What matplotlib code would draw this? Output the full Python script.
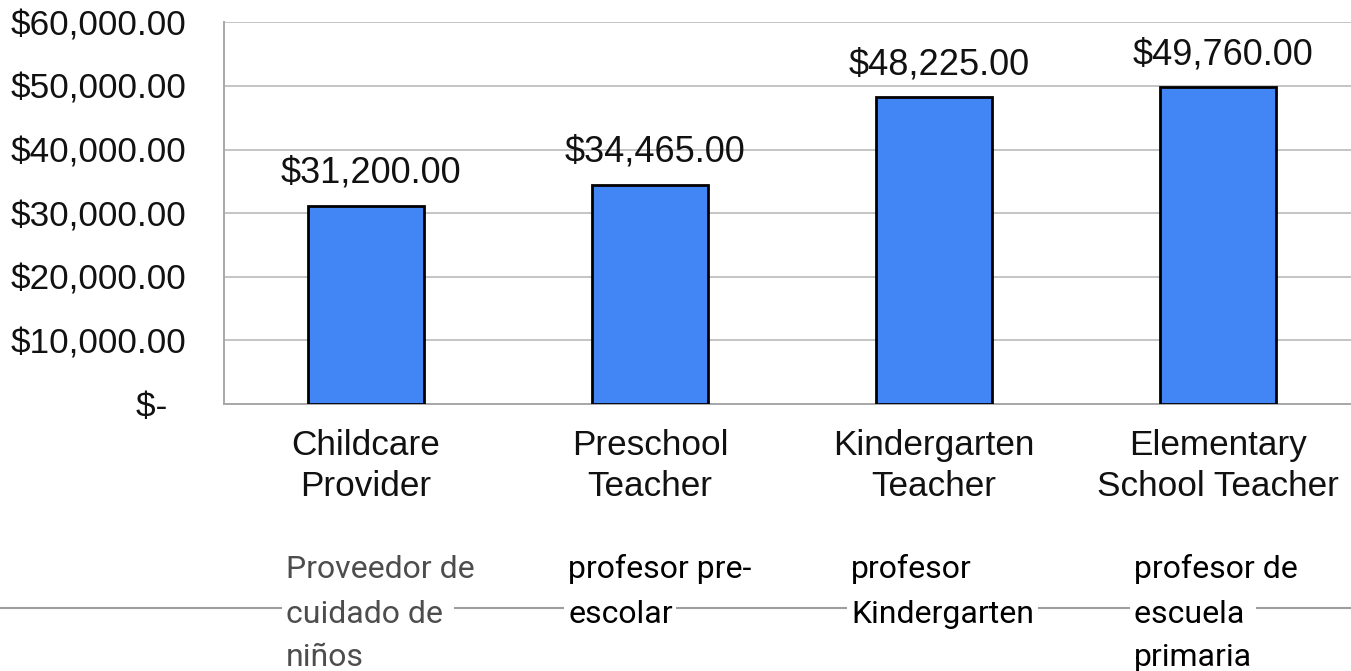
import matplotlib
matplotlib.use("Agg")
import matplotlib.pyplot as plt
from matplotlib.lines import Line2D
from matplotlib.ticker import FuncFormatter

# data
jobs = ["Childcare\nProvider", "Preschool\nTeacher", "Kindergarten\nTeacher", "Elementary\nSchool Teacher"]
salaries = [31200, 34465, 48225, 49760]
yticks = [0, 10000, 20000, 30000, 40000, 50000, 60000]
spanish = [["Proveedor de", "cuidado de ", "niños"],
           ["profesor pre-", "escolar"],
           ["profesor", "Kindergarten"],
           ["profesor de", "escuela ", "primaria"]]
spanish_colors = ["#4d4d4d", "black", "black", "black"]

W, H = 1351, 671
plt.rcParams['font.family'] = ['Liberation Sans', 'DejaVu Sans']

fig = plt.figure(figsize=(W / 100, H / 100), dpi=100)
ax = fig.add_axes([224 / W, (H - 404) / H, (1360 - 224) / W, (404 - 22.3) / H])

x = range(len(jobs))
ax.bar(x, salaries, width=0.405, color="#4285f4", edgecolor="black", linewidth=2, zorder=3)
for i, v in zip(x, salaries):
    ax.annotate("${:,.2f}".format(v), (i, v), xytext=(3.5, 16.5), textcoords="offset points",
                ha="center", va="baseline", fontsize=26, color="#111111")

ax.set_xlim(-0.5, 3.5)
ax.set_ylim(0, 60000)
ax.set_yticks(yticks)
ax.yaxis.set_major_formatter(FuncFormatter(lambda v, p: "$-  " if v == 0 else "${:,.2f}".format(v)))
ax.set_xticks(list(x))
ax.set_xticklabels(jobs, fontsize=25.3, linespacing=1.32)
ax.tick_params(axis="y", length=0, pad=27, labelsize=25.3, labelcolor="#111111")
ax.tick_params(axis="x", length=0, pad=18, labelcolor="#111111")
ax.grid(axis="y", color="#c4c4c4", linewidth=1.4, zorder=0)
ax.set_axisbelow(True)
for s in ["top", "right"]:
    ax.spines[s].set_visible(False)
for s in ["left", "bottom"]:
    ax.spines[s].set_color("#a8a8a8")
    ax.spines[s].set_linewidth(1.4)

# spanish translations below, with a rule running behind them
fig.add_artist(Line2D([0, 1], [1 - 608 / H, 1 - 608 / H], transform=fig.transFigure,
                      color="#9e9e9e", linewidth=1.5, zorder=1))
cols = [286, 568, 851, 1134]
rows = [578, 623, 666]
for cx, lines, c in zip(cols, spanish, spanish_colors):
    for ry, t in zip(rows, lines):
        fig.text(cx / W, 1 - ry / H, t, ha="left", va="baseline", fontsize=23,
                 family=["Roboto", "DejaVu Sans"], color=c, zorder=3,
                 bbox=dict(facecolor="white", edgecolor="none", pad=2.5))

fig.savefig("out.png", dpi=100)
